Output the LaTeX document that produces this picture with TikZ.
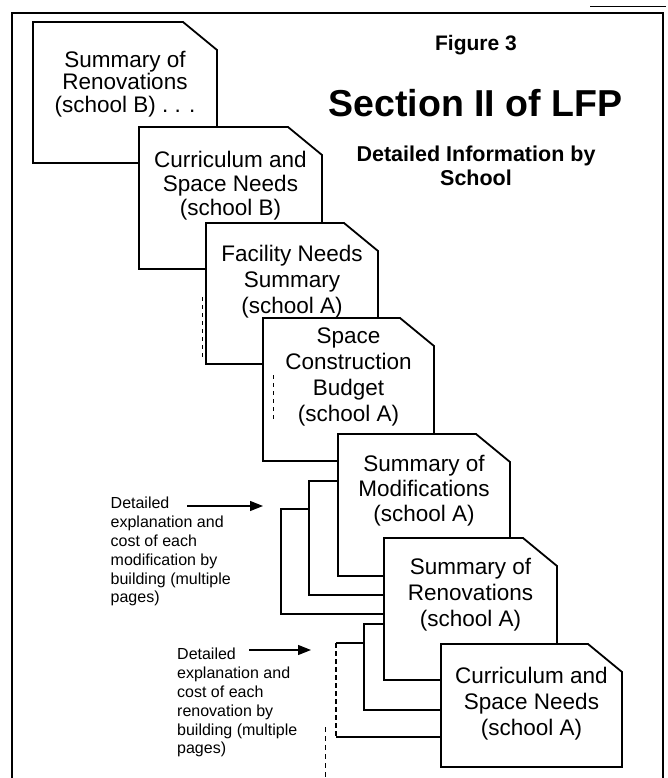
\documentclass[tikz,border=0pt]{standalone}
\usepackage{fontspec}
\setmainfont{Liberation Sans}
\usetikzlibrary{arrows.meta}
\newcommand{\lfppage}[4]{\draw[pagebox] (#1,#2) -- ({#3-34},#2) -- (#3,{#2+28}) -- (#3,#4) -- (#1,#4) -- cycle;}
\begin{document}
\begin{tikzpicture}[x=1pt,y=-1pt,
  pagebox/.style={draw=black, fill=white, line width=1.8pt, line join=miter},
  pageline/.style={draw=black, line width=1.8pt},
  pagetext/.style={align=center, inner sep=0pt},
  note/.style={align=left, inner sep=0pt, anchor=north west, font=\fontsize{16}{18.8}\selectfont},
  pointer/.style={line width=1.3pt, -{Triangle[length=13pt,width=10pt]}},
  heading/.style={align=center, inner sep=0pt, font=\bfseries},
  speck/.style={line width=0.7pt, dash pattern=on 4pt off 4pt}
]
\useasboundingbox (0,0) rectangle (668,778);
% frame
\draw[line width=2.4pt] (12,778) -- (12,13) -- (663,13) -- (663,778);
\draw[line width=0.8pt] (590,6) -- (666,6);

% headings
\node[heading, font=\bfseries\fontsize{21}{24}\selectfont] (fig) at (476,45) {Figure 3};
\node[heading, font=\bfseries\fontsize{37.5}{42}\selectfont] (title) at (475.5,103) {Section II of LFP};
\node[heading, font=\bfseries\fontsize{21.5}{23.5}\selectfont] (sub) at (476,166) {Detailed Information by\\School};

% page 1
\lfppage{33}{22}{217}{163}
\node[pagetext, font=\fontsize{22.5}{22.5}\selectfont] (t1) at (125,84) {Summary of\\Renovations\\(school B) . . .};
% page 2
\lfppage{139}{127}{322}{269}
\node[pagetext, font=\fontsize{22.5}{24}\selectfont] (t2) at (230.5,186) {Curriculum and\\Space Needs\\(school B)};
% page 3
\lfppage{206}{223}{378}{364}
\draw[speck] (202,297) -- (202,360);
\node[pagetext, font=\fontsize{22.5}{26}\selectfont] (t3) at (292,282) {Facility Needs\\Summary\\(school A)};
% page 4
\lfppage{263}{318}{434}{461}
\draw[speck] (273,375) -- (273,420);
\node[pagetext, font=\fontsize{22.5}{26}\selectfont] (t4) at (348.5,377) {Space\\Construction\\Budget\\(school A)};
% modification detail pages
\draw[pagebox] (281,509) rectangle (500,614);
\draw[pagebox] (309,481) rectangle (500,595);
% page 5
\lfppage{338}{434}{510}{576}
\node[pagetext, font=\fontsize{22.5}{25}\selectfont] (t5) at (424,491) {Summary of\\Modifications\\(school A)};
% renovation detail pages
\fill[white] (336,643) rectangle (550,737);
\draw[pageline] (550,643) -- (336,643);
\draw[pageline, dash pattern=on 5pt off 3pt] (336,643) -- (336,737);
\draw[pageline] (336,737) -- (550,737);
\draw[pagebox] (364,624) rectangle (550,710);
\draw[line width=1pt, dash pattern=on 5pt off 4pt] (325,727) -- (325,778);
% page 6
\lfppage{384}{538}{557}{680}
\node[pagetext, font=\fontsize{22.5}{26}\selectfont] (t6) at (470.5,595) {Summary of\\Renovations\\(school A)};
% page 7
\lfppage{441}{644}{622}{767}
\node[pagetext, font=\fontsize{22.5}{26}\selectfont] (t7) at (531.5,704) {Curriculum and\\Space Needs\\(school A)};

% notes
\node[note] (n1) at (110.5,497) {Detailed\\explanation and\\cost of each\\modification by\\building (multiple\\pages)};
\node[note] (n2) at (177,648) {Detailed\\explanation and\\cost of each\\renovation by\\building (multiple\\pages)};
\coordinate (a1s) at (187,506);
\coordinate (a1e) at (263,506);
\coordinate (a2s) at (249,650);
\coordinate (a2e) at (311,650);
\draw[pointer] (a1s) -- (a1e);
\draw[pointer] (a2s) -- (a2e);
\end{tikzpicture}
\end{document}
